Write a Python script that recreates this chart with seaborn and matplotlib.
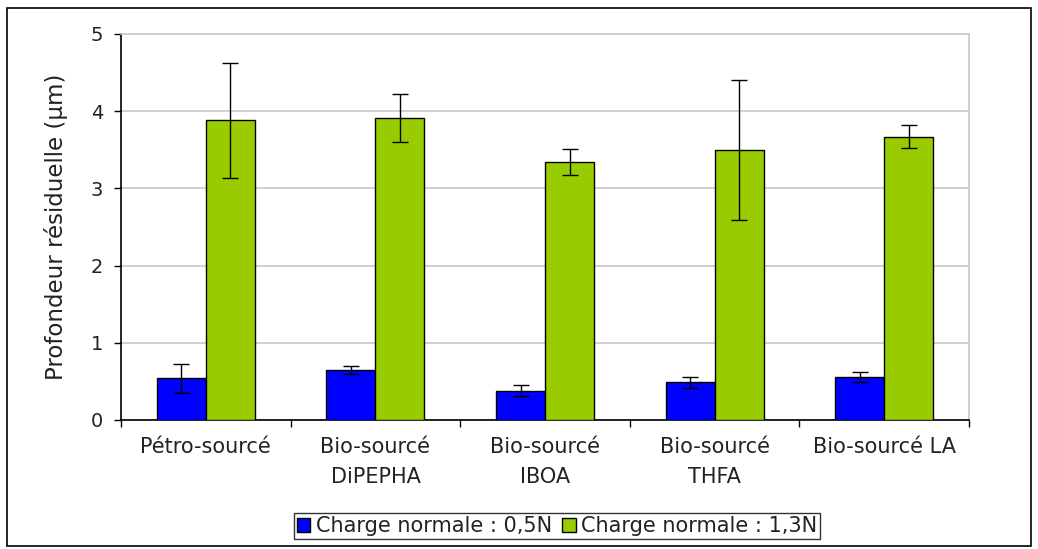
import matplotlib
matplotlib.use("Agg")
import matplotlib.pyplot as plt
import seaborn as sns
import pandas as pd
import numpy as np
from matplotlib.patches import Rectangle

categories = ["Pétro-sourcé", "Bio-sourcé\nDiPEPHA", "Bio-sourcé\nIBOA", "Bio-sourcé\nTHFA", "Bio-sourcé LA"]
series_names = ["Charge normale : 0,5N", "Charge normale : 1,3N"]
vals_05 = [0.54, 0.65, 0.38, 0.49, 0.56]
err_05 = [0.19, 0.05, 0.07, 0.07, 0.065]
vals_13 = [3.88, 3.91, 3.34, 3.50, 3.67]
err_13 = [0.74, 0.31, 0.165, 0.91, 0.145]
colors = ["#0000FF", "#99CC00"]

df = pd.DataFrame({
    "cat": categories * 2,
    "serie": [series_names[0]] * 5 + [series_names[1]] * 5,
    "val": vals_05 + vals_13,
    "err": err_05 + err_13,
})

sns.set_style("white")
plt.rcParams["font.family"] = "DejaVu Sans"
plt.rcParams["text.color"] = "#222222"
plt.rcParams["axes.labelcolor"] = "#222222"
plt.rcParams["xtick.color"] = "black"
plt.rcParams["ytick.color"] = "black"
plt.rcParams["xtick.labelcolor"] = "#222222"
plt.rcParams["ytick.labelcolor"] = "#222222"

fig = plt.figure(figsize=(10.38, 5.49), dpi=100)
ax = fig.add_axes([0.1166, 0.2350, 0.8170, 0.7031])

sns.barplot(data=df, x="cat", y="val", hue="serie", palette=colors, width=0.578,
            gap=0, edgecolor="black", linewidth=1.0, errorbar=None, saturation=1,
            ax=ax, zorder=3)

for i, name in enumerate(series_names):
    sub = df[df["serie"] == name]
    cont = ax.containers[i]
    for bar, (_, row) in zip(cont, sub.iterrows()):
        cx = bar.get_x() + bar.get_width() / 2
        ax.errorbar(cx, row["val"], yerr=row["err"], fmt="none", ecolor="black",
                    elinewidth=1.0, capsize=6, capthick=1.0, zorder=4)

ax.set_ylim(0, 5)
ax.set_xlim(-0.5, 4.5)
ax.set_yticks([0, 1, 2, 3, 4, 5])
ax.yaxis.grid(True, color="#C8C8C8", linewidth=1.2, zorder=0)
ax.set_axisbelow(True)
for s in ["top", "right"]:
    ax.spines[s].set_color("#C8C8C8")
    ax.spines[s].set_linewidth(1.2)
for s in ["left", "bottom"]:
    ax.spines[s].set_color("black")
    ax.spines[s].set_linewidth(1.2)

ax.tick_params(axis="y", direction="out", length=5, width=1, labelsize=14, pad=8, left=True)
ax.tick_params(axis="x", which="major", length=0, labelsize=15, pad=12)
ax.set_xticks(range(5))
ax.set_xticklabels(categories, linespacing=1.65)
ax.set_xticks(np.arange(-0.5, 5.0, 1.0), minor=True)
ax.tick_params(axis="x", which="minor", direction="out", length=5, width=1, bottom=True)
ax.set_xlabel("")
ax.set_ylabel("Profondeur résiduelle (µm)", fontsize=16.5, labelpad=16)

leg = ax.legend(loc="center", bbox_to_anchor=(0.5366, 0.042), bbox_transform=fig.transFigure,
                ncol=2, frameon=True, fancybox=False, edgecolor="black", fontsize=15,
                handlelength=0.65, handleheight=0.65, handletextpad=0.25, columnspacing=0.5,
                borderpad=0.15, borderaxespad=0)
leg.get_frame().set_linewidth(1.0)

fig.patches.append(Rectangle((7 / 1038, 3 / 549), 1024 / 1038, 538 / 549, transform=fig.transFigure,
                             fill=False, edgecolor="black", linewidth=1.2))

fig.savefig("out.png", dpi=100)
